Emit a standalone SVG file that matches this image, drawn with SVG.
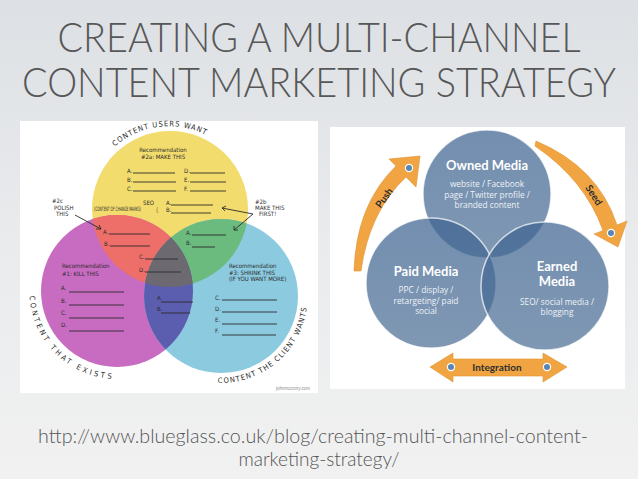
<svg xmlns="http://www.w3.org/2000/svg" width="638" height="479" viewBox="0 0 638 479">
<defs>
  <linearGradient id="bg" x1="0" y1="0" x2="0" y2="1">
    <stop offset="0" stop-color="#dde0e4"/>
    <stop offset="0.5" stop-color="#e9ebed"/>
    <stop offset="1" stop-color="#f1f1f1"/>
  </linearGradient>
  <linearGradient id="media" x1="0" y1="0" x2="0" y2="1">
    <stop offset="0" stop-color="#3d6391"/>
    <stop offset="1" stop-color="#4d6f95"/>
  </linearGradient>
  <clipPath id="cY"><circle cx="170" cy="209" r="78"/></clipPath>
  <clipPath id="cP"><circle cx="117" cy="291" r="76"/></clipPath>
  <clipPath id="cB"><circle cx="221" cy="296" r="77"/></clipPath>
  <path id="arcTop" d="M 114.9 146.5 A 82 82 0 0 1 215.9 141"/>
  <path id="arcPink" d="M 29.5 296 A 88 88 0 0 0 123.2 378.8"/>
  <path id="arcBlue" d="M 217.9 383 A 87 87 0 0 0 307.5 300"/>
</defs>
<style>
  .title { font-family: "Lato Light", "Open Sans Light", Lato, "Open Sans", "Liberation Sans", sans-serif; font-weight: 300; fill: #575757; }
  .url { font-family: "Lato Light", "Open Sans Light", Lato, "Open Sans", "Liberation Sans", sans-serif; font-weight: 300; fill: #555; font-size: 19px; }
  .hw { font-family: "DejaVu Sans Condensed", "DejaVu Sans", sans-serif; fill: #2b2b2b; font-size: 6px; }
  .hwb { font-family: "DejaVu Sans Condensed", "DejaVu Sans", sans-serif; fill: #2b2b2b; font-size: 7.5px; letter-spacing: 1px; }
  .ln { stroke: #2b2b2b; stroke-width: 0.9; fill: none; }
  .media { fill: url(#media); fill-opacity: 0.72; stroke: #ffffff; stroke-opacity: 0.7; stroke-width: 1.5; }
  .mh { font-family: Lato, "Open Sans", "Liberation Sans", sans-serif; font-weight: 700; fill: #ffffff; font-size: 13px; text-anchor: middle; }
  .ms { font-family: "Open Sans", Lato, "Liberation Sans", sans-serif; fill: #eef2f7; font-size: 8.3px; text-anchor: middle; }
  .arrow { fill: #f1a542; stroke: #e0912f; stroke-width: 0.6; }
  .dot { fill: #5a84b3; stroke: #ffffff; stroke-width: 1.2; }
  .at { font-family: Lato, "Open Sans", "Liberation Sans", sans-serif; font-weight: 700; fill: #2e2e2e; font-size: 10px; text-anchor: middle; }
</style>

<rect x="0" y="0" width="638" height="479" fill="url(#bg)"/>

<g id="title">
  <text class="title" x="319" y="52" font-size="42" text-anchor="middle" textLength="523" lengthAdjust="spacingAndGlyphs">CREATING A MULTI-CHANNEL</text>
  <text class="title" x="319" y="97" font-size="42" text-anchor="middle" textLength="594" lengthAdjust="spacingAndGlyphs">CONTENT MARKETING STRATEGY</text>
</g>

<g id="venn-image">
  <rect x="20" y="121" width="298" height="272" fill="#ffffff"/>
  <circle cx="170" cy="209" r="78" fill="#f3dc6e"/>
  <circle cx="117" cy="291" r="76" fill="#c76cc1"/>
  <circle cx="221" cy="296" r="77" fill="#8ccae0"/>
  <g clip-path="url(#cY)">
    <circle cx="117" cy="291" r="76" fill="#ee6f69"/>
    <circle cx="221" cy="296" r="77" fill="#6cbb7e"/>
  </g>
  <g clip-path="url(#cP)">
    <circle cx="221" cy="296" r="77" fill="#5b5daf"/>
  </g>
  <g clip-path="url(#cY)">
    <g clip-path="url(#cP)">
      <circle cx="221" cy="296" r="77" fill="#6c6a70"/>
    </g>
  </g>

  <text class="hwb"><textPath href="#arcTop">CONTENT USERS WANT</textPath></text>
  <text class="hwb"><textPath href="#arcPink" textLength="128">CONTENT THAT EXISTS</textPath></text>
  <text class="hwb"><textPath href="#arcBlue" textLength="128">CONTENT THE CLIENT WANTS</textPath></text>

  <!-- yellow -->
  <text class="hw" x="163" y="152" text-anchor="middle" font-size="5">Recommendation</text>
  <text class="hw" x="163" y="159" text-anchor="middle">#2a: MAKE THIS</text>
  <text class="hw" x="127" y="173">A.</text><path class="ln" d="M133 173 H175"/>
  <text class="hw" x="127" y="182">B.</text><path class="ln" d="M133 182 H176"/>
  <text class="hw" x="127" y="191">C.</text><path class="ln" d="M133 191 H176"/>
  <text class="hw" x="184" y="173">D.</text><path class="ln" d="M190 173 H225"/>
  <text class="hw" x="184" y="182">E.</text><path class="ln" d="M190 182 H226"/>
  <text class="hw" x="184" y="191">F.</text><path class="ln" d="M190 191 H226"/>
  <text class="hw" x="143" y="205" font-size="6.5">SEO</text>
  <text class="hw" x="94" y="211" font-size="3.6" textLength="47" lengthAdjust="spacingAndGlyphs">(CONTENT OF CHANGE MARKS)</text>
  <text class="hw" x="156" y="212" font-size="13" transform="translate(156 212) scale(0.6 1) translate(-156 -212)">{</text>
  <text class="hw" x="166" y="205">A.</text><path class="ln" d="M171 205 H213"/>
  <text class="hw" x="166" y="212">B.</text><path class="ln" d="M171 213 H211"/>

  <!-- annotations -->
  <text class="hw" x="52" y="203" font-size="5">#2c</text>
  <text class="hw" x="54" y="210" font-size="5">POLISH</text>
  <text class="hw" x="56" y="216" font-size="5">THIS</text>
  <path class="ln" d="M75 215 L101 229 M96 229 L101 229 L99 225"/>
  <text class="hw" x="255" y="204" font-size="5">#2b</text>
  <text class="hw" x="255" y="210" font-size="5">MAKE THIS</text>
  <text class="hw" x="259" y="216" font-size="5">FIRST!</text>
  <path class="ln" d="M253 214 L222 208 M226 206 L222 208 L225 211"/>
  <path class="ln" d="M253 214 L234 230 M234 226 L234 230 L238 230"/>

  <!-- red -->
  <text class="hw" x="103" y="234">A.</text><path class="ln" d="M109 234 H150"/>
  <text class="hw" x="104" y="246">B.</text><path class="ln" d="M110 246 H150"/>
  <text class="hw" x="139" y="259">C.</text><path class="ln" d="M145 259 H178"/>
  <text class="hw" x="139" y="272">D.</text><path class="ln" d="M145 272 H181"/>
  <!-- green -->
  <text class="hw" x="186" y="235">A.</text><path class="ln" d="M192 235 H226"/>
  <text class="hw" x="186" y="245">B.</text><path class="ln" d="M192 247 H215"/>
  <!-- pink -->
  <text class="hw" x="62" y="268" font-size="4.2">Recommendation</text>
  <text class="hw" x="62" y="276">#1: KILL THIS</text>
  <text class="hw" x="61" y="290">A.</text><path class="ln" d="M69 292 H124"/>
  <text class="hw" x="61" y="303">B.</text><path class="ln" d="M69 305 H124"/>
  <text class="hw" x="61" y="315">C.</text><path class="ln" d="M69 318 H124"/>
  <text class="hw" x="61" y="327">D.</text><path class="ln" d="M69 331 H124"/>
  <!-- indigo -->
  <text class="hw" x="157" y="300">A.</text><path class="ln" d="M161 302 H193"/>
  <text class="hw" x="157" y="311">B.</text><path class="ln" d="M161 313 H190"/>
  <!-- blue -->
  <text class="hw" x="229" y="268" font-size="4.2">Recommendation</text>
  <text class="hw" x="229" y="275" font-size="5">#3: SHRINK THIS</text>
  <text class="hw" x="229" y="281" font-size="4">(IF YOU WANT MORE)</text>
  <text class="hw" x="215" y="300">C.</text><path class="ln" d="M222 300 H277"/>
  <text class="hw" x="215" y="311">D.</text><path class="ln" d="M222 312 H277"/>
  <text class="hw" x="215" y="322">E.</text><path class="ln" d="M222 324 H277"/>
  <text class="hw" x="215" y="333">F.</text><path class="ln" d="M222 335 H276"/>
  <text x="310" y="390" font-family="Liberation Sans, sans-serif" font-size="4.5" fill="#8a8a8a" text-anchor="end">johnmccrory.com</text>
</g>

<g id="media-image">
  <rect x="330" y="127" width="295" height="262" fill="#ffffff"/>
</g>

<g id="connectors">
  <path id="push-arrow" class="arrow" d="M354 271 Q356 205 396 166 L389 159 L420 156 L416 187 L406 177 Q369 212 361 271 Z"/>
  <path id="seed-arrow" class="arrow" d="M536 141 Q598 167 617 225 L627 221 L618 247 L594 234 L603 230.5 Q585 180 535 146 Z"/>
  <path id="integration-arrow" class="arrow" d="M430 367 L453 353 L453 359 L543 359 L543 353 L567 367 L543 382 L543 376 L453 376 L453 382 Z"/>
  <circle class="dot" cx="409" cy="168" r="3.6"/>
  <circle class="dot" cx="611" cy="233" r="3.6"/>
  <circle class="dot" cx="451" cy="367" r="3.6"/>
  <circle class="dot" cx="547" cy="367" r="3.6"/>
  <text class="at" transform="translate(387 200) rotate(-54)">Push</text>
  <text class="at" transform="translate(591 197) rotate(57)">Seed</text>
  <text class="at" x="497" y="371" font-weight="600" font-size="11">Integration</text>
</g>

<g id="owned-media">
  <circle class="media" cx="487" cy="194" r="64"/>
  <text class="mh" x="487" y="170">Owned Media</text>
  <text class="ms" x="487" y="187">website / Facebook</text>
  <text class="ms" x="487" y="198">page / Twitter profile /</text>
  <text class="ms" x="487" y="208">branded content</text>
</g>
<g id="paid-media">
  <circle class="media" cx="431" cy="283" r="65"/>
  <text class="mh" x="426" y="276">Paid Media</text>
  <text class="ms" x="426" y="293">PPC / display /</text>
  <text class="ms" x="426" y="304">retargeting/ paid</text>
  <text class="ms" x="426" y="314">social</text>
</g>
<g id="earned-media">
  <circle class="media" cx="545" cy="286" r="64"/>
  <text class="mh" x="557" y="271">Earned</text>
  <text class="mh" x="557" y="286">Media</text>
  <text class="ms" x="557" y="305">SEO/ social media /</text>
  <text class="ms" x="557" y="315">blogging</text>
</g>

<g id="caption">
  <text class="url" x="313" y="443" text-anchor="middle" textLength="550" lengthAdjust="spacingAndGlyphs">http://www.blueglass.co.uk/blog/creating-multi-channel-content-</text>
  <text class="url" x="319" y="466" text-anchor="middle">marketing-strategy/</text>
</g>
</svg>
